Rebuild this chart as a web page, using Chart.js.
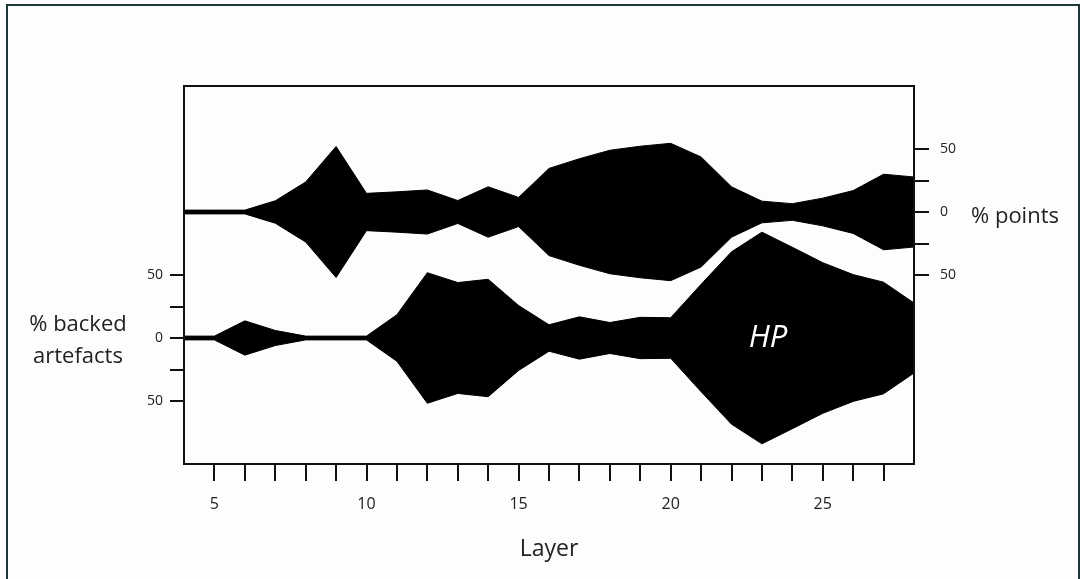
<!DOCTYPE html>
<html>
<head>
<meta charset="utf-8">
<script src="https://cdn.jsdelivr.net/npm/chart.js@4.4.0/dist/chart.umd.min.js"></script>
<style>
  body { margin: 0; background: #fdfdfd; font-family: "Open Sans", sans-serif; }
  #wrap { position: relative; width: 1080px; height: 579px; overflow: hidden; }
  #frame { position: absolute; left: 6px; top: 4px; width: 1074px; height: 620px; border: 2px solid #1f3538; box-sizing: border-box; }
  .side { position: absolute; color: #222; font-size: 22px; line-height: 32px; text-align: center; }
</style>
</head>
<body>
<div id="wrap">
  <div id="frame"></div>
  <canvas id="seriation" width="1080" height="579"></canvas>
  <div class="side" style="left:18px; top:306px; width:120px;">% backed<br>artefacts</div>
  <div class="side" style="left:960px; top:198px; width:110px;">% points</div>
</div>
<script>
// layers along the x axis
const layers = [4, 5, 6, 7, 8, 9, 10, 11, 12, 13, 14, 15, 16, 17, 18, 19, 20, 21, 22, 23, 24, 25, 26, 27, 28];

// half-widths of the two "battleship" shapes (%)
const pointsPct = [1.5, 1.5, 1.5, 8.9, 23.8, 52, 14.8, 16, 17.5, 9.1, 20, 11.6, 34.6, 42.3, 49, 52.2, 54.5, 43.7, 20, 8.6, 6.6, 11, 17, 30, 27.8];
const backedPct = [1.5, 1.5, 13.6, 6, 1.5, 1.5, 1.5, 18.5, 51.8, 44, 46.6, 25.8, 10.5, 16.8, 12.3, 16.4, 16.1, 42.6, 68.4, 84, 72, 59.8, 50.3, 44.3, 27.8];

// tick positions
const xTicks = [5, 6, 7, 8, 9, 10, 11, 12, 13, 14, 15, 16, 17, 18, 19, 20, 21, 22, 23, 24, 25, 26, 27];
const rightTicks = [-50, -25, 0, 25, 50];
const leftTicks = [-150, -125, -100, -75, -50];

// each shape sits on its own baseline of one shared y scale
const pointsBase = 0;
const backedBase = -100;

function band(base, pct, sign) {
  return layers.map((x, i) => ({ x: x, y: base + sign * pct[i] }));
}

function shape(base, pct) {
  return [
    { data: band(base, pct, 1), fill: '+1' },
    { data: band(base, pct, -1), fill: false }
  ].map(d => Object.assign(d, {
    borderColor: '#000',
    backgroundColor: '#000',
    borderWidth: 1,
    pointRadius: 0,
    tension: 0
  }));
}

// box round the plot and the HP label
const boxAndLabel = {
  id: 'boxAndLabel',
  afterDatasetsDraw(chart) {
    const { ctx, chartArea: a, scales } = chart;
    ctx.save();
    ctx.fillStyle = '#fff';
    ctx.font = 'italic 31px "Open Sans"';
    ctx.textAlign = 'center';
    ctx.textBaseline = 'middle';
    ctx.fillText('HP', scales.x.getPixelForValue(23.2), scales.y.getPixelForValue(backedBase));
    ctx.strokeStyle = '#111';
    ctx.lineWidth = 2;
    ctx.strokeRect(a.left, a.top, a.right - a.left, a.bottom - a.top);
    ctx.restore();
  }
};

const tickGrid = len => ({ drawOnChartArea: false, drawTicks: true, tickLength: len, color: '#111', lineWidth: 2 });
const axisBorder = { display: true, color: '#111', width: 2 };

new Chart(document.getElementById('seriation').getContext('2d'), {
  type: 'line',
  data: { datasets: shape(pointsBase, pointsPct).concat(shape(backedBase, backedPct)) },
  options: {
    responsive: false,
    animation: false,
    layout: { padding: { top: 86, left: 0, right: 0, bottom: 0 } },
    plugins: { legend: { display: false }, tooltip: { enabled: false } },
    scales: {
      x: {
        type: 'linear',
        min: 4,
        max: 28,
        afterBuildTicks: s => { s.ticks = xTicks.map(v => ({ value: v })); },
        afterFit: s => { s.height = 115; },
        ticks: {
          color: '#222',
          font: { family: 'Open Sans', size: 16 },
          padding: 14,
          maxRotation: 0,
          autoSkip: false,
          callback: v => (v % 5 === 0 ? v : '')
        },
        grid: tickGrid(17),
        border: axisBorder,
        title: {
          display: true,
          text: 'Layer',
          color: '#222',
          font: { family: 'Open Sans', size: 23 },
          padding: { top: 0, bottom: 16 }
        }
      },
      y: {
        position: 'left',
        min: -200,
        max: 100,
        afterBuildTicks: s => { s.ticks = leftTicks.map(v => ({ value: v })); },
        afterFit: s => { s.width = 184; },
        ticks: {
          color: '#222',
          font: { family: 'Open Sans', size: 14 },
          padding: 7,
          autoSkip: false,
          callback: v => ((v - backedBase) % 50 === 0 ? Math.abs(v - backedBase) : '')
        },
        grid: tickGrid(14),
        border: axisBorder
      },
      y2: {
        position: 'right',
        min: -200,
        max: 100,
        afterBuildTicks: s => { s.ticks = rightTicks.map(v => ({ value: v })); },
        afterFit: s => { s.width = 166; },
        ticks: {
          color: '#222',
          font: { family: 'Open Sans', size: 14 },
          padding: 11,
          autoSkip: false,
          callback: v => ((v - pointsBase) % 50 === 0 ? Math.abs(v - pointsBase) : '')
        },
        grid: tickGrid(15),
        border: axisBorder
      }
    }
  },
  plugins: [boxAndLabel]
});
</script>
</body>
</html>
